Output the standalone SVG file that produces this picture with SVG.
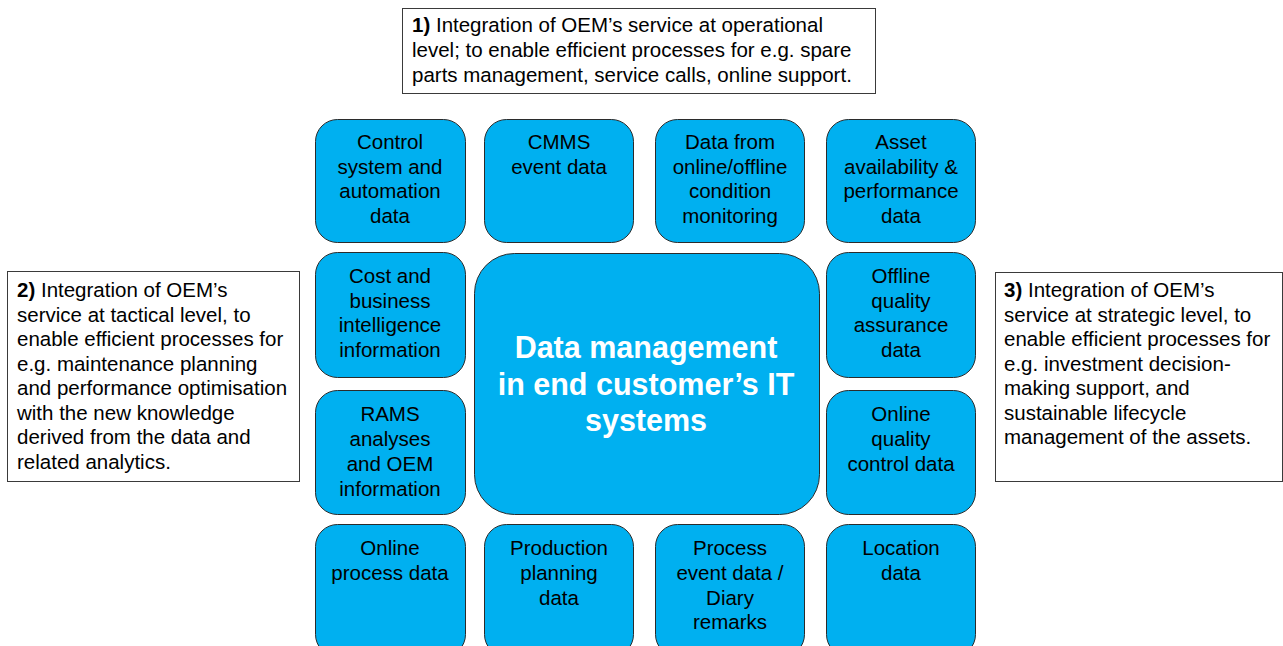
<svg xmlns="http://www.w3.org/2000/svg" width="1283" height="646" viewBox="0 0 1283 646">
  <style>
    .node { fill: #00B0F0; stroke: #2b2b2b; stroke-width: 1; }
    .note { fill: #ffffff; stroke: #3a3a3a; stroke-width: 1; }
    .lbl { font-family: "Liberation Sans", Arial, sans-serif; font-size: 20.5px; fill: #000000; text-anchor: middle; }
    .txt { font-family: "Liberation Sans", Arial, sans-serif; font-size: 20.5px; fill: #000000; }
    .hub { font-family: "Liberation Sans", Arial, sans-serif; font-size: 30.5px; font-weight: bold; fill: #ffffff; text-anchor: middle; }
    b, .b { font-weight: bold; }
  </style>
  <rect width="1283" height="646" fill="#ffffff"/>

  <!-- Note 1: operational level -->
  <g id="note-operational">
    <rect class="note" x="402.5" y="8.5" width="473" height="85"/>
    <text class="txt" x="412" y="32"><tspan class="b">1)</tspan> Integration of OEM’s service at operational</text>
    <text class="txt" x="412" y="57">level; to enable efficient processes for e.g. spare</text>
    <text class="txt" x="412" y="82">parts management, service calls, online support.</text>
  </g>

  <!-- Note 2: tactical level -->
  <g id="note-tactical">
    <rect class="note" x="7.5" y="271.5" width="292" height="210"/>
    <text class="txt" x="17" y="297"><tspan class="b">2)</tspan> Integration of OEM’s</text>
    <text class="txt" x="17" y="321.5">service at tactical level, to</text>
    <text class="txt" x="17" y="346">enable efficient processes for</text>
    <text class="txt" x="17" y="370.5">e.g. maintenance planning</text>
    <text class="txt" x="17" y="395">and performance optimisation</text>
    <text class="txt" x="17" y="419.5">with the new knowledge</text>
    <text class="txt" x="17" y="444">derived from the data and</text>
    <text class="txt" x="17" y="468.5">related analytics.</text>
  </g>

  <!-- Note 3: strategic level -->
  <g id="note-strategic">
    <rect class="note" x="995.5" y="272.5" width="287" height="209"/>
    <text class="txt" x="1004" y="297"><tspan class="b">3)</tspan> Integration of OEM’s</text>
    <text class="txt" x="1004" y="321.5">service at strategic level, to</text>
    <text class="txt" x="1004" y="346">enable efficient processes for</text>
    <text class="txt" x="1004" y="370.5">e.g. investment decision-</text>
    <text class="txt" x="1004" y="395">making support, and</text>
    <text class="txt" x="1004" y="419.5">sustainable lifecycle</text>
    <text class="txt" x="1004" y="444">management of the assets.</text>
  </g>

  <!-- Row 1 -->
  <g id="control-system">
    <rect class="node" x="315.5" y="119.5" width="150" height="123" rx="22"/>
    <text class="lbl" x="390" y="149">Control</text>
    <text class="lbl" x="390" y="174">system and</text>
    <text class="lbl" x="390" y="198">automation</text>
    <text class="lbl" x="390" y="223">data</text>
  </g>
  <g id="cmms">
    <rect class="node" x="484.5" y="119.5" width="149" height="123" rx="22"/>
    <text class="lbl" x="559" y="149">CMMS</text>
    <text class="lbl" x="559" y="174">event data</text>
  </g>
  <g id="condition-monitoring">
    <rect class="node" x="655.5" y="119.5" width="149" height="123" rx="22"/>
    <text class="lbl" x="730" y="149">Data from</text>
    <text class="lbl" x="730" y="174">online/offline</text>
    <text class="lbl" x="730" y="198">condition</text>
    <text class="lbl" x="730" y="223">monitoring</text>
  </g>
  <g id="asset-availability">
    <rect class="node" x="826.5" y="119.5" width="149" height="123" rx="22"/>
    <text class="lbl" x="901" y="149">Asset</text>
    <text class="lbl" x="901" y="174">availability &amp;</text>
    <text class="lbl" x="901" y="198">performance</text>
    <text class="lbl" x="901" y="223">data</text>
  </g>

  <!-- Row 2 -->
  <g id="cost-bi">
    <rect class="node" x="315.5" y="252.5" width="150" height="125" rx="22"/>
    <text class="lbl" x="390" y="283">Cost and</text>
    <text class="lbl" x="390" y="308">business</text>
    <text class="lbl" x="390" y="332">intelligence</text>
    <text class="lbl" x="390" y="357">information</text>
  </g>
  <g id="offline-qa">
    <rect class="node" x="826.5" y="252.5" width="149" height="125" rx="22"/>
    <text class="lbl" x="901" y="283">Offline</text>
    <text class="lbl" x="901" y="308">quality</text>
    <text class="lbl" x="901" y="332">assurance</text>
    <text class="lbl" x="901" y="357">data</text>
  </g>

  <!-- Central hub -->
  <g id="data-management">
    <rect class="node" x="474.5" y="253.5" width="345" height="261" rx="40"/>
    <text class="hub" x="646" y="358">Data management</text>
    <text class="hub" x="646" y="395">in end customer’s IT</text>
    <text class="hub" x="646" y="431">systems</text>
  </g>

  <!-- Row 3 -->
  <g id="rams">
    <rect class="node" x="315.5" y="390.5" width="150" height="124" rx="22"/>
    <text class="lbl" x="390" y="421">RAMS</text>
    <text class="lbl" x="390" y="446">analyses</text>
    <text class="lbl" x="390" y="471">and OEM</text>
    <text class="lbl" x="390" y="496">information</text>
  </g>
  <g id="online-qc">
    <rect class="node" x="826.5" y="390.5" width="149" height="124" rx="22"/>
    <text class="lbl" x="901" y="421">Online</text>
    <text class="lbl" x="901" y="446">quality</text>
    <text class="lbl" x="901" y="471">control data</text>
  </g>

  <!-- Row 4 -->
  <g id="online-process">
    <rect class="node" x="315.5" y="524.5" width="150" height="132" rx="22"/>
    <text class="lbl" x="390" y="555">Online</text>
    <text class="lbl" x="390" y="580">process data</text>
  </g>
  <g id="production-planning">
    <rect class="node" x="484.5" y="524.5" width="149" height="132" rx="22"/>
    <text class="lbl" x="559" y="555">Production</text>
    <text class="lbl" x="559" y="580">planning</text>
    <text class="lbl" x="559" y="605">data</text>
  </g>
  <g id="process-events">
    <rect class="node" x="655.5" y="524.5" width="149" height="132" rx="22"/>
    <text class="lbl" x="730" y="555">Process</text>
    <text class="lbl" x="730" y="580">event data /</text>
    <text class="lbl" x="730" y="605">Diary</text>
    <text class="lbl" x="730" y="629">remarks</text>
  </g>
  <g id="location">
    <rect class="node" x="826.5" y="524.5" width="149" height="132" rx="22"/>
    <text class="lbl" x="901" y="555">Location</text>
    <text class="lbl" x="901" y="580">data</text>
  </g>
</svg>
